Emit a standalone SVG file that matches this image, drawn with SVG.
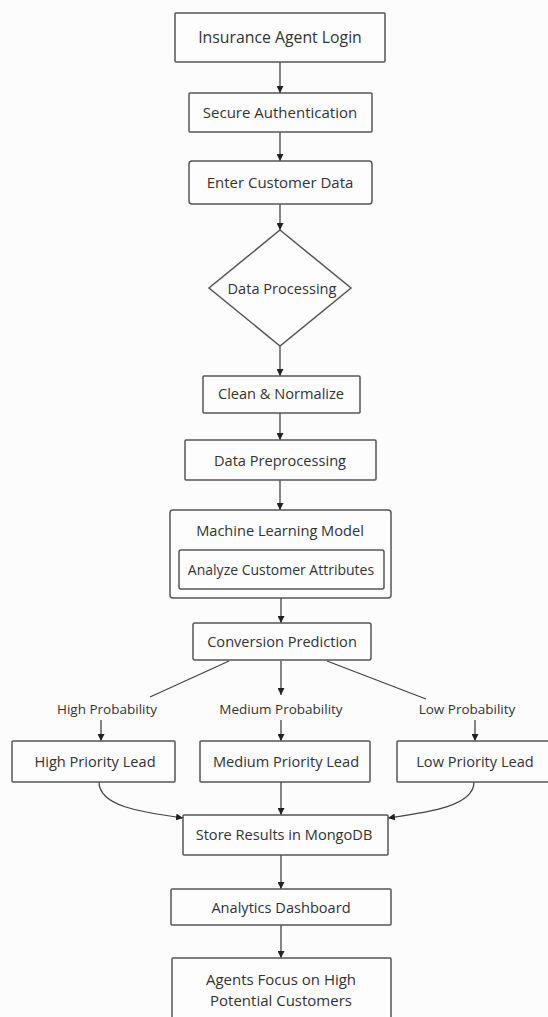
<svg xmlns="http://www.w3.org/2000/svg" width="548" height="1017" viewBox="0 0 548 1017">
<defs>
<style>
.n{fill:#fdfdfd;stroke:#555;stroke-width:1.5}
.t{font-family:"Open Sans","Noto Sans",sans-serif;font-size:14.6px;fill:#333;text-anchor:middle;dominant-baseline:central}
.l{font-family:"Open Sans","Noto Sans",sans-serif;font-size:13.5px;fill:#333;text-anchor:middle;dominant-baseline:central}
.e{fill:none;stroke:#444;stroke-width:1.3}
</style>
<marker id="a" viewBox="0 0 10 10" refX="10" refY="5" markerWidth="7" markerHeight="7" orient="auto" markerUnits="userSpaceOnUse">
<path d="M0,0L10,5L0,10z" fill="#222"/>
</marker>
</defs>
<rect width="548" height="1017" fill="#fcfcfc"/>
<g id="connectors">
<path class="e" d="M280,62V93" marker-end="url(#a)"/>
<path class="e" d="M280,132V161" marker-end="url(#a)"/>
<path class="e" d="M280,204V230" marker-end="url(#a)"/>
<path class="e" d="M280,346V376" marker-end="url(#a)"/>
<path class="e" d="M280,413V440" marker-end="url(#a)"/>
<path class="e" d="M280,480V510" marker-end="url(#a)"/>
<path class="e" d="M281,589V623" marker-end="url(#a)"/>
<path class="e" d="M229,661L150,697"/>
<path class="e" d="M281,661V695" marker-end="url(#a)"/>
<path class="e" d="M327,661L426,699"/>
<path class="e" d="M101,720V741" marker-end="url(#a)"/>
<path class="e" d="M281,720V741" marker-end="url(#a)"/>
<path class="e" d="M475,720V741" marker-end="url(#a)"/>
<path class="e" d="M99,782C99,806 140,812 183,818" marker-end="url(#a)"/>
<path class="e" d="M281,782V815" marker-end="url(#a)"/>
<path class="e" d="M474,782C474,806 430,812 388,818" marker-end="url(#a)"/>
<path class="e" d="M281,855V889" marker-end="url(#a)"/>
<path class="e" d="M281,925V958" marker-end="url(#a)"/>
<text class="l" x="107" y="709">High Probability</text>
<text class="l" x="281" y="709">Medium Probability</text>
<text class="l" x="467" y="709">Low Probability</text>
</g>
<g id="login"><rect class="n" x="175" y="13" width="210" height="49" rx="1"/><text class="t" x="280" y="37" style="font-size:15.8px">Insurance Agent Login</text></g>
<g id="auth"><rect class="n" x="189" y="93" width="183" height="39" rx="1"/><text class="t" x="280" y="112" style="font-size:15px">Secure Authentication</text></g>
<g id="enter"><rect class="n" x="189" y="161" width="183" height="43" rx="3"/><text class="t" x="280" y="182" style="font-size:15px">Enter Customer Data</text></g>
<g id="processing"><polygon class="n" points="280,230 351,288 280,346 209,288"/><text class="t" x="282" y="288">Data Processing</text></g>
<g id="clean"><rect class="n" x="203" y="376" width="157" height="37" rx="1"/><text class="t" x="281" y="393">Clean &amp; Normalize</text></g>
<g id="preprocessing"><rect class="n" x="185" y="440" width="191" height="40" rx="1"/><text class="t" x="280" y="460">Data Preprocessing</text></g>
<g id="ml"><rect class="n" x="170" y="510" width="221" height="88" rx="3"/><text class="t" x="280" y="530">Machine Learning Model</text>
<g id="analyze"><rect class="n" x="179" y="550" width="205" height="39" rx="2"/><text class="t" x="281" y="569" style="font-size:14px">Analyze Customer Attributes</text></g></g>
<g id="prediction"><rect class="n" x="193" y="623" width="178" height="37" rx="2"/><text class="t" x="282" y="641">Conversion Prediction</text></g>
<g id="high"><rect class="n" x="12" y="741" width="163" height="41" rx="1"/><text class="t" x="95" y="761">High Priority Lead</text></g>
<g id="medium"><rect class="n" x="200" y="741" width="170" height="41" rx="1"/><text class="t" x="286" y="761">Medium Priority Lead</text></g>
<g id="low"><rect class="n" x="397" y="741" width="156" height="41" rx="1"/><text class="t" x="475" y="761">Low Priority Lead</text></g>
<g id="store"><rect class="n" x="183" y="815" width="205" height="40" rx="1"/><text class="t" x="284" y="834">Store Results in MongoDB</text></g>
<g id="dashboard"><rect class="n" x="171" y="889" width="220" height="36" rx="1"/><text class="t" x="281" y="907">Analytics Dashboard</text></g>
<g id="focus"><rect class="n" x="172" y="958" width="219" height="64" rx="1"/><text class="t" x="281" y="979" style="font-size:15px">Agents Focus on High</text><text class="t" x="281" y="1000" style="font-size:15px">Potential Customers</text></g>
</svg>
